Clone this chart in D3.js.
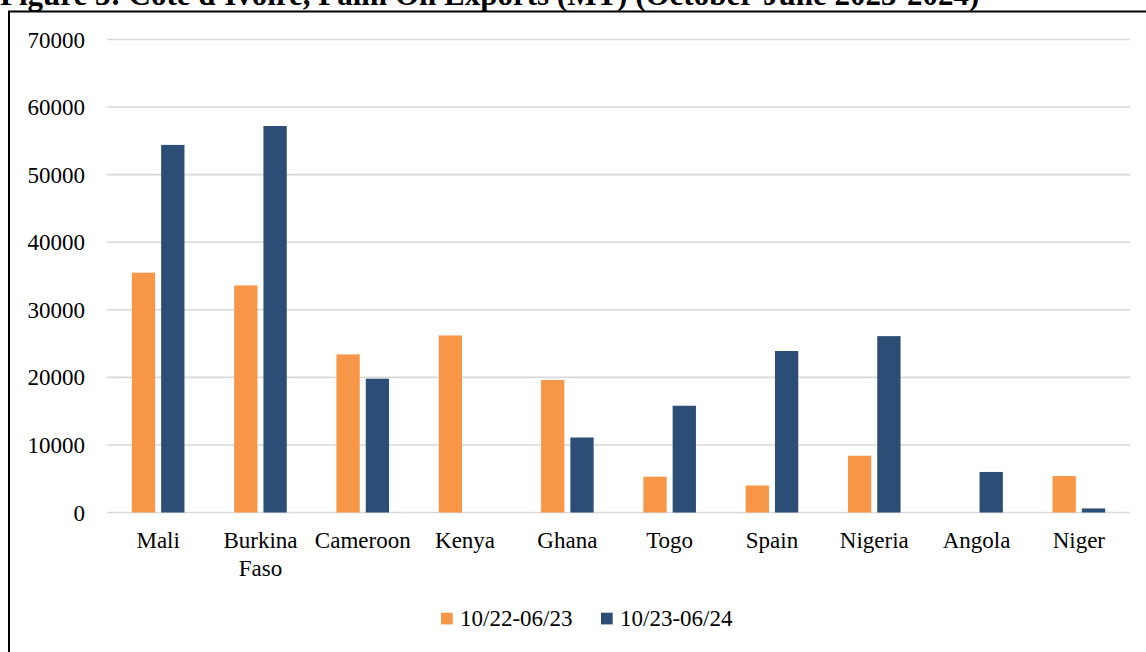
<!DOCTYPE html>
<html>
<head>
<meta charset="utf-8">
<script src="https://cdn.jsdelivr.net/npm/d3@7"></script>
<style>
  html, body { margin: 0; padding: 0; background: #fff; }
  svg { display: block; }
  text { font-family: "Liberation Serif", "Times New Roman", serif; fill: #000; }
</style>
</head>
<body>
<svg id="chart" width="1146" height="652"></svg>
<script>
const titleText = "Figure 3: Côte d'Ivoire, Palm Oil Exports (MT) (October-June 2023-2024)";
const categories = ["Mali", "Burkina Faso", "Cameroon", "Kenya", "Ghana", "Togo", "Spain", "Nigeria", "Angola", "Niger"];
const seriesNames = ["10/22-06/23", "10/23-06/24"];
const values2223 = [35500, 33600, 23400, 26200, 19600, 5300, 4000, 8400, 0, 5400];
const values2324 = [54400, 57200, 19800, 0, 11100, 15800, 23900, 26100, 6000, 600];
const yTicks = [0, 10000, 20000, 30000, 40000, 50000, 60000, 70000];
const colors = ["#F79646", "#2C4D75"];

const svg = d3.select("#chart");
const W = 1146, H = 652;
const plot = { left: 107, right: 1130, top: 39.5, bottom: 512.5 };

// title (partially cut at top, as in the reference)
svg.append("text")
  .attr("x", 0).attr("y", 5)
  .attr("font-size", 31).attr("font-weight", "bold")
  .text(titleText);

// frame
svg.append("rect")
  .attr("x", 9).attr("y", 11.5)
  .attr("width", W + 20).attr("height", H + 20)
  .attr("fill", "none").attr("stroke", "#000").attr("stroke-width", 2);

const x = d3.scaleBand().domain(categories).range([plot.left, plot.right]);
const y = d3.scaleLinear().domain([0, 70000]).range([plot.bottom, plot.top]);

// gridlines
svg.append("g").selectAll("line").data(yTicks).join("line")
  .attr("x1", plot.left).attr("x2", plot.right)
  .attr("y1", d => y(d)).attr("y2", d => y(d))
  .attr("stroke", "#d9d9d9").attr("stroke-width", 1.6);

// y axis labels
const yAxis = d3.axisLeft(y).tickValues(yTicks).tickSize(0).tickPadding(0).tickFormat(d3.format("d"));
const gy = svg.append("g").attr("transform", "translate(85,0)").call(yAxis);
gy.select(".domain").remove();
gy.selectAll("text").attr("font-size", 23).attr("font-family", "Liberation Serif, serif").attr("fill", "#000").attr("dy", "0.33em");

// bars
const barW = 23.3, gap = 6;
const series = [values2223, values2324];
series.forEach((vals, si) => {
  svg.append("g").selectAll("rect").data(categories).join("rect")
    .attr("x", (c) => x(c) + x.bandwidth() / 2 + (si === 0 ? -gap / 2 - barW : gap / 2))
    .attr("y", (c, i) => y(vals[i]))
    .attr("width", barW)
    .attr("height", (c, i) => y(0) - y(vals[i]))
    .attr("fill", colors[si]);
});

// x labels
const xAxis = d3.axisBottom(x).tickSize(0).tickPadding(0);
const gx = svg.append("g").attr("transform", `translate(0,${plot.bottom})`).call(xAxis);
gx.select(".domain").remove();
gx.selectAll("text").each(function(d) {
  const t = d3.select(this);
  t.text(null).attr("font-size", 23).attr("font-family", "Liberation Serif, serif").attr("fill", "#000").attr("y", 0).attr("dy", null);
  const words = d === "Burkina Faso" ? ["Burkina", "Faso"] : [d];
  words.forEach((w, k) => {
    t.append("tspan").attr("x", 0).attr("y", 35.5 + k * 28).text(w);
  });
});

// legend
const legend = svg.append("g");
const legendX = [441, 601];
seriesNames.forEach((n, i) => {
  legend.append("rect").attr("x", legendX[i]).attr("y", 612.7).attr("width", 11.7).attr("height", 11.7).attr("fill", colors[i]);
  legend.append("text").attr("x", legendX[i] + 19).attr("y", 626).attr("font-size", 23).text(n);
});
</script>
</body>
</html>
